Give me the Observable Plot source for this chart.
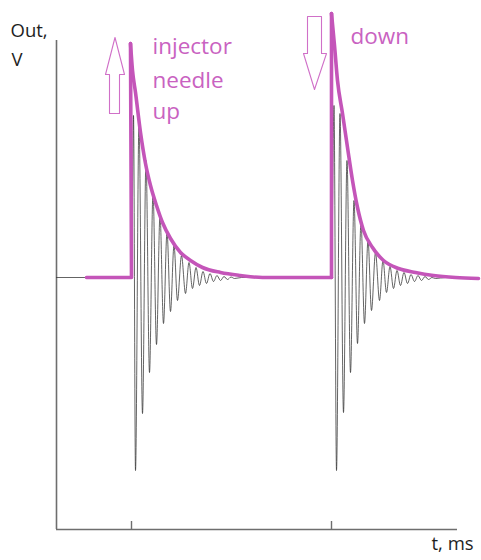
<!DOCTYPE html>
<html>
<head>
<meta charset="utf-8">
<script src="https://cdn.jsdelivr.net/npm/d3@7"></script>
<script src="https://cdn.jsdelivr.net/npm/@observablehq/plot@0.6"></script>
<style>
  html, body { margin: 0; padding: 0; background: #fff; }
</style>
</head>
<body>
<div id="chart"></div>
<script>
// ---- data (t in ms, V in volts; arbitrary units) ----
// Magenta envelope: step up at t=1 (needle up), decay, step up at t=5 (needle down), decay
const riseUpT    = [0.10, 1.00, 0.98];
const riseUpV    = [0.00, 0.00, 4.68];
const decayUpT   = [0.98, 1.02, 1.08, 1.18, 1.28, 1.38, 1.50, 1.62, 1.78, 1.98, 2.18, 2.42, 2.78, 3.18, 3.62, 5.00];
const decayUpV   = [4.68, 4.14, 3.70, 2.90, 2.28, 1.84, 1.44, 1.10, 0.78, 0.50, 0.34, 0.20, 0.10, 0.04, 0.00, 0.00];
const riseDownT  = [5.00, 5.00];
const riseDownV  = [0.00, 5.28];
const decayDownT = [5.00, 5.06, 5.12, 5.22, 5.32, 5.42, 5.52, 5.64, 5.82, 6.04, 6.34, 6.68, 7.04, 7.48, 7.94];
const decayDownV = [5.28, 4.64, 3.94, 3.28, 2.60, 1.94, 1.40, 0.94, 0.60, 0.34, 0.18, 0.10, 0.04, 0.00, -0.02];

// Black ringing signal (alternating peaks)
const signalT = [-0.50, 1.00,
  1.04, 1.08, 1.15, 1.22, 1.29, 1.36, 1.43, 1.50, 1.57, 1.64, 1.71, 1.78, 1.85, 1.92, 2.00, 2.08, 2.15, 2.22,
  2.29, 2.36, 2.43, 2.50, 2.57, 2.64, 2.71, 2.78, 2.85, 2.92, 2.99, 3.06, 3.20,
  5.00,
  5.05, 5.10, 5.17, 5.24, 5.31, 5.38, 5.45, 5.52, 5.59, 5.66, 5.73, 5.80, 5.88, 5.96, 6.03, 6.10, 6.17, 6.24,
  6.31, 6.38, 6.45, 6.52, 6.59, 6.66, 6.73, 6.80, 6.87, 6.94, 7.01, 7.08, 7.28, 7.50];
const signalV = [0.00, 0.00,
  3.24, -3.86, 3.10, -2.72, 2.34, -1.90, 1.70, -1.34, 1.24, -0.92, 0.90, -0.68, 0.64, -0.46, 0.44, -0.32, 0.30, -0.22,
  0.20, -0.16, 0.12, -0.12, 0.08, -0.08, 0.04, -0.06, 0.02, -0.04, 0.01, -0.02, 0.00,
  0.00,
  3.44, -3.86, 3.28, -2.70, 2.34, -1.90, 1.54, -1.32, 1.10, -0.92, 0.74, -0.66, 0.50, -0.46, 0.34, -0.30, 0.22, -0.22,
  0.14, -0.16, 0.10, -0.12, 0.06, -0.08, 0.04, -0.06, 0.02, -0.04, 0.00, -0.02, 0.00, 0.00];

// Outline arrows (needle up / needle down)
const upArrowT   = [0.56, 0.56, 0.48, 0.67, 0.86, 0.76, 0.76, 0.56];
const upArrowV   = [3.28, 4.06, 4.06, 4.80, 4.06, 4.06, 3.28, 3.28];
const downArrowT = [4.52, 4.80, 4.80, 4.90, 4.66, 4.44, 4.52, 4.52];
const downArrowV = [5.22, 5.22, 4.48, 4.48, 3.76, 4.48, 4.48, 5.22];

// Time ticks on the x axis
const tickTimes = [1, 5];

// Annotation labels
const magentaLabels = ["injector", "needle", "up", "down"];
const magentaLabelT = [1.42, 1.42, 1.42, 5.38];
const magentaLabelV = [4.61, 3.93, 3.31, 4.81];

const axisLabels = ["Out,", "V", "t, ms"];
const axisLabelT = [-1.42, -1.40, 7.00];
const axisLabelV = [4.92, 4.34, -5.34];

// ---- build tables ----
const zip = (xs, ys) => xs.map((x, i) => ({t: x, v: ys[i]}));
const riseUp = zip(riseUpT, riseUpV);
const decayUp = zip(decayUpT, decayUpV);
const riseDown = zip(riseDownT, riseDownV);
const decayDown = zip(decayDownT, decayDownV);
const signal = zip(signalT, signalV);
const upArrow = zip(upArrowT, upArrowV);
const downArrow = zip(downArrowT, downArrowV);
const mLabels = magentaLabels.map((s, i) => ({s, t: magentaLabelT[i], v: magentaLabelV[i]}));
const aLabels = axisLabels.map((s, i) => ({s, t: axisLabelT[i], v: axisLabelV[i]}));

const tMin = -0.5, tMax = 7.52, vMin = -5.04, vMax = 5.34, vAxisTop = 4.74;
const magenta = "#c455b9";
const envStyle = {x: "t", y: "v", stroke: magenta, strokeWidth: 3.6, strokeLinejoin: "round", strokeLinecap: "round"};

const chart = Plot.plot({
  width: 481,
  height: 560,
  marginLeft: 56,
  marginRight: 24,
  marginTop: 10,
  marginBottom: 31,
  x: {domain: [tMin, tMax], axis: null},
  y: {domain: [vMin, vMax], axis: null},
  style: {background: "white"},
  marks: [
    // axes
    Plot.ruleX([tMin], {y1: vMin, y2: vAxisTop, stroke: "#6e6e6e", strokeWidth: 1.6}),
    Plot.ruleY([vMin], {x1: tMin, x2: tMax, stroke: "#6e6e6e", strokeWidth: 1.6}),
    Plot.ruleX(tickTimes, {y1: vMin, y2: vMin + 0.16, stroke: "#6e6e6e", strokeWidth: 1.4}),
    // ringing signal
    Plot.line(signal, {x: "t", y: "v", curve: "monotone-x", stroke: "#333", strokeWidth: 0.9, strokeOpacity: 0.85}),
    // envelope
    Plot.line(riseUp, {...envStyle, curve: "linear"}),
    Plot.line(decayUp, {...envStyle, curve: "monotone-x"}),
    Plot.line(riseDown, {...envStyle, curve: "linear"}),
    Plot.line(decayDown, {...envStyle, curve: "monotone-x"}),
    // arrows
    Plot.line(upArrow, {x: "t", y: "v", stroke: "#d070c8", strokeWidth: 1.1, fill: "white"}),
    Plot.line(downArrow, {x: "t", y: "v", stroke: "#d070c8", strokeWidth: 1.1, fill: "white"}),
    // labels
    Plot.text(mLabels, {x: "t", y: "v", text: "s", textAnchor: "start", fill: "#c962c1", fontSize: 22.5, fontFamily: "Open Sans"}),
    Plot.text(aLabels, {x: "t", y: "v", text: "s", textAnchor: "start", fill: "#1e1e1e", fontSize: 18.5, fontFamily: "Open Sans"})
  ]
});
document.getElementById("chart").appendChild(chart);
</script>
</body>
</html>
